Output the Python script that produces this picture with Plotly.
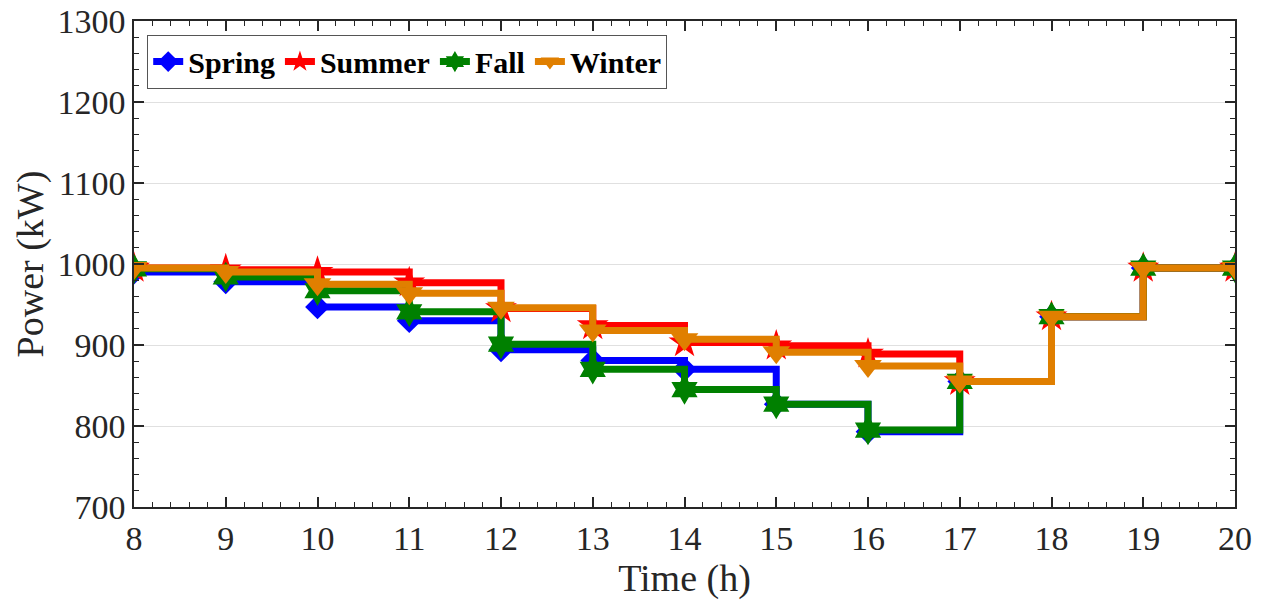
import plotly.graph_objects as go

hours = [8, 9, 10, 11, 12, 13, 14, 15, 16, 17, 18, 19, 20]

spring = [990, 978, 947, 930, 894, 881, 870, 827, 793, 855, 935, 995, 995]
summer = [995, 993, 990, 977, 945, 924, 903, 899, 889, 855, 935, 995, 995]
fall = [994, 984, 967, 941, 901, 870, 845, 827, 795, 855, 935, 995, 995]
winter = [995, 990, 975, 964, 946, 918, 907, 891, 874, 855, 935, 995, 995]

series = [
    ("Spring", spring, "#0000ff", "diamond", 19),
    ("Summer", summer, "#ff0000", "star", 24),
    ("Fall", fall, "#008000", "hexagram", 23),
    ("Winter", winter, "#e07f00", "triangle-down", 24),
]

font_family = "Liberation Serif"

fig = go.Figure()
for name, vals, color, symbol, msize in series:
    fig.add_trace(go.Scatter(
        x=hours, y=vals, name=name, mode="lines+markers",
        line=dict(color=color, width=7, shape="hv"),
        marker=dict(symbol=symbol, size=msize, color=color, line=dict(width=0)),
    ))

axis_common = dict(
    showline=True, linecolor="#262626", linewidth=1.5, mirror="ticks",
    ticks="inside", ticklen=10, tickwidth=1.5, tickcolor="#262626",
    tickfont=dict(family=font_family, size=34, color="#262626"),
    zeroline=False, automargin=False,
)

fig.update_xaxes(
    range=[8, 20], dtick=1, showgrid=False,
    minor=dict(ticks="inside", ticklen=5, dtick=0.2, tickcolor="#262626", tickwidth=1.2, showgrid=False),
    title=dict(text="Time (h)", font=dict(family=font_family, size=38, color="#262626"), standoff=2),
    **axis_common,
)
fig.update_yaxes(
    range=[700, 1300], dtick=100, showgrid=True, gridcolor="#e0e0e0", gridwidth=1,
    minor=dict(ticks="inside", ticklen=5, dtick=20, tickcolor="#262626", tickwidth=1.2, showgrid=False),
    title=dict(text="Power (kW)", font=dict(family=font_family, size=38, color="#262626"), standoff=2),
    **axis_common,
)

fig.update_layout(
    width=1263, height=605,
    margin=dict(l=134, r=28, t=21, b=98),
    plot_bgcolor="white", paper_bgcolor="white",
    showlegend=True,
    legend=dict(
        orientation="h", x=0.012, y=0.972, xanchor="left", yanchor="top",
        bgcolor="white", bordercolor="#555555", borderwidth=1,
        font=dict(family=font_family, size=30, color="black", weight="bold"),
        itemwidth=30, tracegroupgap=0,
    ),
)

fig.write_html("out.html")
